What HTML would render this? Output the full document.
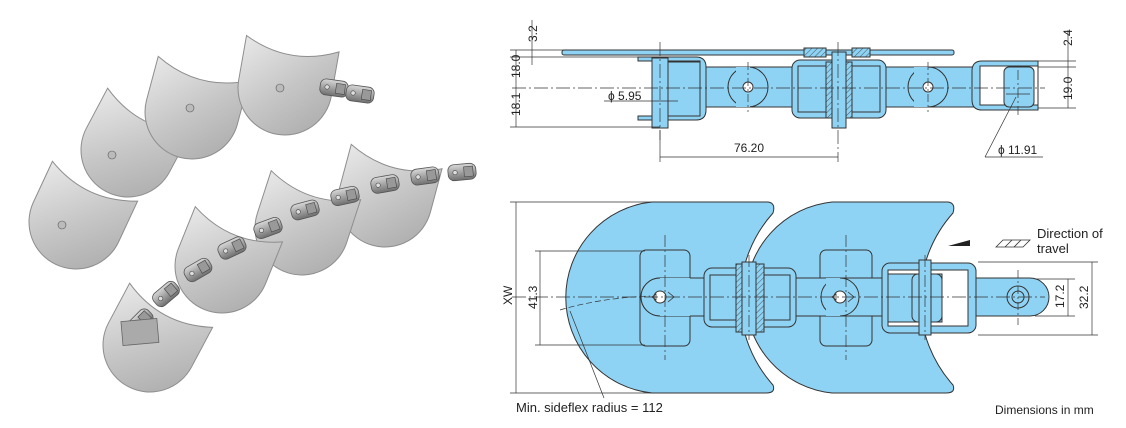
<!DOCTYPE html>
<html><head><meta charset="utf-8"><style>
html,body{margin:0;padding:0;background:#fff;}
svg{display:block;}
text{font-family:"Liberation Sans",sans-serif;fill:#222;}
</style></head><body>
<svg width="1126" height="428" viewBox="0 0 1126 428" xmlns="http://www.w3.org/2000/svg">
<defs>
<linearGradient id="g1" x1="0" y1="0" x2="1" y2="1">
<stop offset="0" stop-color="#e8e8e8"/><stop offset="0.5" stop-color="#c6c6c6"/><stop offset="1" stop-color="#a8a8a8"/>
</linearGradient>
<linearGradient id="g2" x1="0" y1="0" x2="0" y2="1">
<stop offset="0" stop-color="#d8d8d8"/><stop offset="1" stop-color="#6f6f6f"/>
</linearGradient>
<path id="pl" d="M -47,-45 Q 0,-22 47,-45 L 47,0 A 47,47 0 0 1 -47,0 Z"/>
<g id="lk"><rect x="-14" y="-8" width="28" height="16" rx="6" fill="url(#g2)" stroke="#555" stroke-width="0.8"/><circle cx="-7" cy="0" r="2.2" fill="#ddd" stroke="#444" stroke-width="0.6"/><rect x="2" y="-5" width="9" height="10" fill="#999" stroke="#444" stroke-width="0.6"/></g>
<pattern id="h" width="4" height="4" patternUnits="userSpaceOnUse" patternTransform="rotate(45)"><rect width="4" height="4" fill="#8fd3f4"/><line x1="0" y1="0" x2="0" y2="4" stroke="#333" stroke-width="0.8"/></pattern>
</defs>

<!-- PHOTO -->
<g stroke="#8d8d8d" stroke-width="1" fill="url(#g1)">
<use href="#pl" transform="translate(76,222) rotate(25)"/>
<use href="#pl" transform="translate(128,150) rotate(28)"/>
<use href="#pl" transform="translate(192,112) rotate(15)"/>
<use href="#pl" transform="translate(285,88) rotate(10)"/>
<use href="#pl" transform="translate(385,200) rotate(15)"/>
<use href="#pl" transform="translate(302,228) rotate(18)"/>
<use href="#pl" transform="translate(222,266) rotate(22)"/>
<use href="#pl" transform="translate(150,345) rotate(28)"/>
</g>
<g fill="#bbb" stroke="#555" stroke-width="0.6">
<circle cx="62" cy="225" r="4"/><circle cx="112" cy="155" r="4"/><circle cx="190" cy="108" r="4"/><circle cx="280" cy="88" r="4"/>
</g>
<g>
<use href="#lk" transform="translate(334,88) rotate(8)"/>
<use href="#lk" transform="translate(360,94) rotate(8)"/>
<use href="#lk" transform="translate(140,322) rotate(-45)"/>
<use href="#lk" transform="translate(166,294) rotate(-40)"/>
<use href="#lk" transform="translate(198,270) rotate(-30)"/>
<use href="#lk" transform="translate(232,248) rotate(-25)"/>
<use href="#lk" transform="translate(268,228) rotate(-20)"/>
<use href="#lk" transform="translate(305,210) rotate(-15)"/>
<use href="#lk" transform="translate(345,196) rotate(-12)"/>
<use href="#lk" transform="translate(385,184) rotate(-10)"/>
<use href="#lk" transform="translate(425,176) rotate(-8)"/>
<use href="#lk" transform="translate(462,172) rotate(-5)"/>
</g>
<rect x="122" y="320" width="36" height="24" fill="#aaa" stroke="#666" stroke-width="0.8" transform="rotate(-5 140 333)"/>

<!-- TOP DRAWING -->
<g stroke="#333" stroke-width="1" fill="#8fd3f4">
<rect x="562" y="50" width="392" height="5" rx="2"/>
<rect x="804" y="48" width="22" height="9" fill="url(#h)"/><rect x="852" y="48" width="18" height="9" fill="url(#h)"/>
<path d="M638,57 H696 Q706,57 706,67 V110 Q706,120 696,120 H638 V116 H700 V61 H638 Z"/>
<rect x="652" y="62" width="48" height="54"/>
<rect x="706" y="67" width="86" height="40"/>
<circle cx="748" cy="87" r="20"/>
<rect x="736" y="67" width="14" height="40" stroke="none"/>
<circle cx="748" cy="87" r="5" fill="#fff"/>
<rect x="792" y="60" width="94" height="58" rx="8"/>
<rect x="798" y="66" width="28" height="46"/><rect x="852" y="66" width="28" height="46"/>
<rect x="826" y="62" width="26" height="56" fill="url(#h)"/>
<rect x="832" y="52" width="14" height="76"/>
<rect x="886" y="67" width="88" height="40"/>
<circle cx="928" cy="87" r="20"/>
<rect x="914" y="67" width="14" height="40" stroke="none"/>
<circle cx="928" cy="87" r="5" fill="#fff"/>
<rect x="980" y="66" width="58" height="44" fill="#fff"/>
<path d="M1038,61 H982 Q972,61 972,71 V100 Q972,110 982,110 H1038 V105 H980 V66 H1038 Z"/>
<rect x="1004" y="67" width="30" height="40" rx="5"/>
<rect x="652" y="58" width="16" height="70"/>
</g>
<g stroke="#333" stroke-width="0.7" fill="none">
<line x1="512" y1="88" x2="1045" y2="88" stroke-dasharray="14,3,2,3"/>
<line x1="660" y1="42" x2="660" y2="140" stroke-dasharray="14,3,2,3"/>
<line x1="838" y1="42" x2="838" y2="162" stroke-dasharray="14,3,2,3"/>
<line x1="1018" y1="70" x2="1018" y2="115" stroke-dasharray="10,3,2,3"/>
<line x1="748" y1="62" x2="748" y2="112" stroke-dasharray="8,3,2,3"/>
<line x1="928" y1="62" x2="928" y2="112" stroke-dasharray="8,3,2,3"/>
<line x1="510" y1="50" x2="565" y2="50"/><line x1="510" y1="57" x2="640" y2="57"/><line x1="510" y1="127" x2="660" y2="127"/>
<line x1="516" y1="50" x2="516" y2="127"/>
<line x1="532" y1="20" x2="532" y2="65"/>
<line x1="660" y1="130" x2="660" y2="162"/>
<line x1="660" y1="157" x2="838" y2="157"/>
<line x1="604" y1="101" x2="678" y2="101"/>
<line x1="1038" y1="61" x2="1076" y2="61"/><line x1="1038" y1="67" x2="1076" y2="67"/><line x1="1038" y1="108" x2="1076" y2="108"/>
<line x1="1068" y1="30" x2="1068" y2="108"/>
<line x1="985" y1="157" x2="1043" y2="157"/><line x1="985" y1="157" x2="1016" y2="97"/>
<line x1="1006" y1="94" x2="1030" y2="94"/>
</g>
<text x="0" y="0" font-size="12" transform="translate(520,78) rotate(-90)">18.0</text>
<text x="0" y="0" font-size="12" transform="translate(520,116) rotate(-90)">18.1</text>
<text x="0" y="0" font-size="12" transform="translate(537,42) rotate(-90)">3.2</text>
<text x="0" y="0" font-size="12" transform="translate(1072,46) rotate(-90)">2.4</text>
<text x="0" y="0" font-size="12" transform="translate(1072,100) rotate(-90)">19.0</text>
<text x="608" y="100" font-size="12">ϕ 5.95</text>
<text x="734" y="152" font-size="12">76.20</text>
<text x="998" y="154" font-size="12">ϕ 11.91</text>

<!-- BOTTOM DRAWING -->
<g stroke="#333" stroke-width="1" fill="#8fd3f4">
<path d="M652,202 L768,202 Q776,203 773,213 A129,129 0 0 0 773,385 Q776,393 766,393 L652,393 A96,96 0 0 1 652,202 Z"/>
<path transform="translate(180,0)" d="M652,202 L768,202 Q776,203 773,213 A129,129 0 0 0 773,385 Q776,393 766,393 L652,393 A96,96 0 0 1 652,202 Z"/>
<rect x="640" y="250" width="50" height="96" rx="6"/>
<rect x="820" y="250" width="52" height="96" rx="6"/>
<path d="M660,278 H1030 A19,19 0 0 1 1030,316 H660 A19,19 0 0 1 660,278 Z"/>
<rect x="704" y="268" width="92" height="59" rx="8"/>
<rect x="710" y="275" width="26" height="45"/><rect x="764" y="275" width="26" height="45"/>
<rect x="736" y="264" width="28" height="68" fill="url(#h)"/>
<rect x="742" y="262" width="14" height="73"/>
<circle cx="840" cy="297" r="19"/>
<rect x="826" y="278" width="14" height="38" stroke="none"/>
<rect x="882" y="263" width="94" height="70" rx="8"/>
<rect x="888" y="270" width="80" height="56" fill="#fff"/>
<rect x="888" y="274" width="54" height="48" fill="#8fd3f4"/>
<rect x="912" y="274" width="30" height="48" rx="6"/>
<rect x="919" y="260" width="12" height="75"/>
<circle cx="660" cy="297" r="19"/>
<rect x="660" y="278" width="30" height="38" stroke="none"/>
<circle cx="660" cy="297" r="6" fill="#fff"/>
<circle cx="840" cy="297" r="6" fill="#fff"/>
<circle cx="1018" cy="297" r="11"/><circle cx="1018" cy="297" r="6"/>
</g>
<g stroke="#333" stroke-width="0.8" fill="none">
<path d="M668,292 L674,297 L668,302 M652,297 l4,-3 v6 z"/>
<path d="M848,292 L854,297 L848,302 M832,297 l4,-3 v6 z"/>
<line x1="512" y1="297" x2="1045" y2="297" stroke-dasharray="14,3,2,3" stroke-width="0.7"/>
<line x1="665" y1="235" x2="665" y2="360" stroke-dasharray="12,3,2,3" stroke-width="0.7"/>
<line x1="846" y1="235" x2="846" y2="360" stroke-dasharray="12,3,2,3" stroke-width="0.7"/>
<line x1="749" y1="255" x2="749" y2="340" stroke-dasharray="12,3,2,3" stroke-width="0.7"/>
<line x1="925" y1="255" x2="925" y2="340" stroke-dasharray="12,3,2,3" stroke-width="0.7"/>
<line x1="1018" y1="270" x2="1018" y2="325" stroke-dasharray="8,3,2,3" stroke-width="0.7"/>
<line x1="510" y1="202" x2="655" y2="202" stroke-width="0.7"/><line x1="510" y1="393" x2="655" y2="393" stroke-width="0.7"/>
<line x1="516" y1="202" x2="516" y2="393" stroke-width="0.7"/>
<line x1="535" y1="251" x2="645" y2="251" stroke-width="0.7"/><line x1="535" y1="345" x2="645" y2="345" stroke-width="0.7"/>
<line x1="540" y1="251" x2="540" y2="345" stroke-width="0.7"/>
<line x1="1035" y1="279" x2="1075" y2="279" stroke-width="0.7"/><line x1="1035" y1="316" x2="1075" y2="316" stroke-width="0.7"/>
<line x1="1068" y1="279" x2="1068" y2="316" stroke-width="0.7"/>
<line x1="978" y1="262" x2="1098" y2="262" stroke-width="0.7"/><line x1="978" y1="335" x2="1098" y2="335" stroke-width="0.7"/>
<line x1="1092" y1="262" x2="1092" y2="335" stroke-width="0.7"/>
<path d="M560,310 Q600,298 650,296" stroke-dasharray="6,3" stroke-width="0.7"/>
<line x1="604" y1="398" x2="570" y2="311" stroke-width="0.7"/>
<path d="M996,247 L1003,240 H1030 L1023,247 Z M1005,247 L1012,240 M1014,247 L1021,240" stroke-width="0.8"/>
</g>
<path d="M948,246 L970,240 V246 Z" fill="#222"/>
<text x="0" y="0" font-size="12" transform="translate(512,305) rotate(-90)">XW</text>
<text x="0" y="0" font-size="12" transform="translate(537,309) rotate(-90)">41.3</text>
<text x="0" y="0" font-size="12" transform="translate(1064,308) rotate(-90)">17.2</text>
<text x="0" y="0" font-size="12" transform="translate(1088,309) rotate(-90)">32.2</text>
<text x="1037" y="238" font-size="13">Direction of</text>
<text x="1037" y="253" font-size="13">travel</text>
<text x="516" y="412" font-size="13">Min. sideflex radius = 112</text>
<text x="995" y="414" font-size="12">Dimensions in mm</text>
</svg>
</body></html>
